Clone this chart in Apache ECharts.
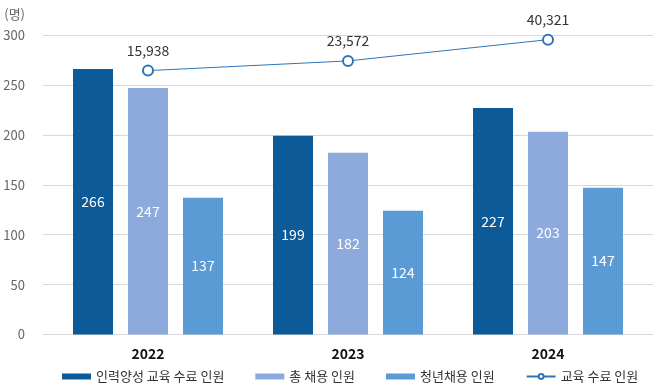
<!DOCTYPE html>
<html><head><meta charset="utf-8">
<script src="https://cdn.jsdelivr.net/npm/echarts@6/dist/echarts.min.js"></script>
<style>html,body{margin:0;padding:0;background:#fff}#c{width:653px;height:389px}</style>
</head><body><div id="c"></div>
<script>
const categories = ['2022', '2023', '2024'];
const trained = [266, 199, 227];
const totalHired = [247, 182, 203];
const youthHired = [137, 124, 147];
const eduCompleted = [15938, 23572, 40321];
const yTicks = [0, 50, 100, 150, 200, 250, 300];

const font = '"Noto Sans CJK KR", "Noto Sans", sans-serif';
const chart = echarts.init(document.getElementById('c'));
const barLabel = {show: true, position: 'inside', color: '#fff', fontSize: 14, fontFamily: font};
chart.setOption({
  animation: false,
  textStyle: {fontFamily: font},
  grid: [
    {left: 43, right: 0, top: 35, bottom: 54.5},
    {left: 48, right: 5, top: 35, bottom: 54.5}
  ],
  xAxis: [
    {gridIndex: 0, type: 'value', show: false, min: 0, max: 1},
    {gridIndex: 1, type: 'category', data: categories,
     axisLine: {show: false}, axisTick: {show: false},
     axisLabel: {color: '#111', fontWeight: 'bold', fontSize: 14, margin: 12, fontFamily: font}}
  ],
  yAxis: [
    {gridIndex: 0, type: 'value', min: yTicks[0], max: yTicks[yTicks.length - 1], interval: 50,
     name: '(명)', nameLocation: 'end', nameGap: 14,
     nameTextStyle: {color: '#666', fontSize: 13, align: 'right', padding: [0, 18, 0, 0]},
     axisLine: {show: false}, axisTick: {show: false},
     axisLabel: {color: '#666', fontSize: 13, margin: 18},
     splitLine: {lineStyle: {color: '#d9d9d9', width: 1}}},
    {gridIndex: 1, type: 'value', min: 0, max: 300, show: false, splitLine: {show: false}},
    {gridIndex: 1, type: 'value', min: -192000, max: 44000, show: false, splitLine: {show: false}}
  ],
  legend: {
    bottom: 1, left: 57, itemWidth: 29, itemHeight: 6, itemGap: 31,
    textStyle: {color: '#333', fontSize: 13, fontFamily: font},
    data: [
      {name: '인력양성 교육 수료 인원', icon: 'rect'},
      {name: '총 채용 인원', icon: 'rect'},
      {name: '청년채용 인원', icon: 'rect'},
      {name: '교육 수료 인원'}
    ]
  },
  series: [
    {name: '인력양성 교육 수료 인원', type: 'bar', xAxisIndex: 1, yAxisIndex: 1, data: trained,
     barWidth: 40, barGap: '37.5%', itemStyle: {color: '#0d5a98'}, label: barLabel},
    {name: '총 채용 인원', type: 'bar', xAxisIndex: 1, yAxisIndex: 1, data: totalHired,
     barWidth: 40, barGap: '37.5%', itemStyle: {color: '#8eaadc'}, label: barLabel},
    {name: '청년채용 인원', type: 'bar', xAxisIndex: 1, yAxisIndex: 1, data: youthHired,
     barWidth: 40, barGap: '37.5%', itemStyle: {color: '#5b9bd5'}, label: barLabel},
    {name: '교육 수료 인원', type: 'line', xAxisIndex: 1, yAxisIndex: 2, data: eduCompleted,
     symbol: 'emptyCircle', symbolSize: 10,
     lineStyle: {color: '#2e75b6', width: 1},
     itemStyle: {color: '#2e75b6', borderWidth: 3},
     label: {show: true, position: 'top', distance: 7, color: '#333', fontSize: 14,
       formatter: p => p.value.toLocaleString('en-US')}},
    {type: 'line', xAxisIndex: 0, yAxisIndex: 0, data: [], silent: true}
  ]
});
</script></body></html>
